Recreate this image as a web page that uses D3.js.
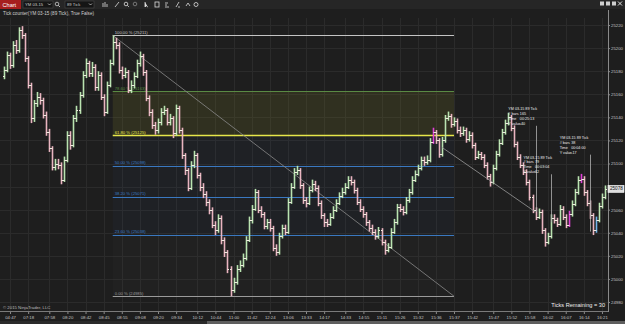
<!DOCTYPE html>
<html><head><meta charset="utf-8">
<script src="https://cdn.jsdelivr.net/npm/d3@7"></script>
<style>html,body{margin:0;padding:0;background:#1e1e1e;overflow:hidden}svg{display:block}</style>
</head><body><svg id="c" width="625" height="324"></svg>
<script>
// ---------- DATA ----------
const instrument = "YM 03-15";
const barType = "89 Tick";
const priceBase = 25000;
const firstOpen = 176;
const closes = [
181,194,185,203,198,216,211,191,168,139,
152,158,155,142,127,113,97,100,99,86,
103,125,116,139,146,159,177,187,178,184,
166,177,158,145,168,187,205,203,181,177,
179,164,168,176,187,193,179,157,145,133,
129,136,145,146,136,139,126,148,129,107,
94,79,99,107,90,80,74,67,60,47,
42,53,34,23,9,-10,-3,9,12,18,
34,51,61,75,60,56,46,49,44,27,
23,37,44,41,67,80,93,94,81,68,
66,77,82,79,66,55,49,48,54,60,
66,72,75,80,86,84,77,67,61,56,
49,44,41,37,42,32,25,28,41,49,
62,61,58,68,75,86,91,96,103,101,
103,119,127,120,108,120,139,141,134,137,
129,126,129,121,125,116,106,108,106,99,
89,84,96,108,118,127,135,140,131,117,
106,99,93,84,71,60,54,58,42,32,
37,53,51,48,61,54,47,56,65,75,
86,87,75,66,55,42,51,63,71,78];
const highs = [
184,197,196,206,207,218,219,213,193,170,
155,162,161,157,145,130,115,104,104,101,
106,128,128,142,150,162,180,191,189,188,
186,180,179,160,171,190,211,209,205,184,
183,181,172,179,190,197,195,181,159,147,
136,139,148,150,148,143,141,151,150,131,
109,96,102,111,109,92,83,76,69,62,
50,56,55,36,25,11,1,12,16,22,
37,54,64,78,77,63,58,52,52,46,
30,40,47,47,70,83,96,98,96,83,
71,80,86,85,81,68,57,52,57,63,
69,75,79,83,89,89,86,79,69,63,
58,51,47,43,45,44,34,31,44,52,
65,65,63,71,78,89,94,99,106,106,
107,122,131,129,122,123,142,145,143,140,
139,132,132,131,128,127,118,111,110,108,
101,91,99,111,121,130,138,144,142,133,
119,108,101,95,86,73,62,61,60,44,
40,56,56,53,64,63,56,59,68,78,
89,91,89,77,68,57,54,66,74,81];
const lows = [
173,179,182,183,195,196,208,188,165,135,
136,149,151,139,124,110,94,94,95,82,
84,101,112,114,136,143,157,174,175,175,
163,163,155,141,143,166,185,199,178,173,
174,161,161,165,174,184,176,154,141,130,
125,126,133,142,133,133,122,124,126,104,
90,76,77,96,87,76,70,63,56,44,
38,40,30,19,5,-15,-12,-5,6,10,
16,32,48,59,57,53,43,43,41,24,
20,21,35,38,39,65,78,90,78,65,
62,64,75,76,63,52,45,45,46,52,
58,64,70,73,78,81,74,64,58,53,
46,41,38,34,35,29,21,23,26,39,
47,58,55,56,66,73,84,89,94,98,
99,101,117,117,105,106,118,137,131,132,
126,123,124,118,119,113,103,104,103,96,
86,80,82,94,106,116,125,133,128,114,
103,96,90,81,68,57,51,52,39,28,
30,35,48,45,46,51,44,45,54,63,
73,83,72,63,52,38,40,49,61,69];
const timeLabels = ["04:47","07:18","07:58","08:20","08:42","08:45","08:55","09:08","09:20","09:34","10:12","10:44","11:00","11:42","12:24","13:06","13:33","14:17","14:33","14:55","15:11","15:26","15:32","15:36","15:37","15:42","15:47","15:52","15:58","16:02","16:07","16:14","16:21"];
const timeTickBars = [2,8,15,21,27,33,39,45,51,57,64,70,76,82,88,94,100,106,113,119,125,131,137,143,149,155,162,168,174,180,186,192,198];
const priceTicks = [25220,25200,25180,25160,25140,25120,25100,25080,25060,25040,25020,25000,24980];
const fibLevels = [100, 78.6, 61.8, 50, 38.2, 23.6, 0];
const fibStartBar = 36, fibHighPrice = 25211, fibLowPrice = 24985, fibEndBar = 149;
const currentPrice = 25078;
const ticksRemaining = 30;
const markedBars = [142, 187, 191];
const blueBars = [196];
const rulerStartBars = [145, 181, 194];
const rulerStartPrices = [25114, 25049, 25041];
const rulerEndBars = [176, 181, 194];
const rulerEndPrices = [25058, 25049, 25041];
const rulerBoxBars = [167, 172, 184];
const rulerBoxPrices = [25150, 25108, 25125];
const rulerBarCounts = [165, 79, 38];
const rulerTimes = ["00:25:13", "00:03:04", "00:04:00"];
const rulerYValues = ["-40", "12", "-17"];

// ---------- DRAW ----------
const W = 625, H = 324;
const FONT = "'Liberation Sans', Arial, sans-serif";
const svg = d3.select("#c").style("font-family", FONT);
svg.append("rect").attr("width", W).attr("height", H).attr("fill", "#1e1e1e");

const x = d3.scaleLinear().domain([0, closes.length - 1]).range([4, 605]);
const y = d3.scaleLinear().domain([24980, 25220]).range([302, 25]);
const px = v => Math.round(v) + 0.5;

// grid
const grid = svg.append("g");
grid.selectAll("line.h").data(priceTicks).join("line").attr("class", "h")
  .attr("x1", 0).attr("x2", 608).attr("y1", d => px(y(d))).attr("y2", d => px(y(d)))
  .attr("stroke", "#2b2b2b").attr("stroke-width", 1);
grid.selectAll("line.v").data(timeTickBars).join("line").attr("class", "v")
  .attr("x1", d => px(x(d))).attr("x2", d => px(x(d))).attr("y1", 18).attr("y2", 311)
  .attr("stroke", "#2b2b2b").attr("stroke-width", 1);

// fibonacci retracement
const fibPrice = l => fibLowPrice + (fibHighPrice - fibLowPrice) * l / 100;
const fx1 = x(fibStartBar), fx2 = x(fibEndBar);
const fibColor = l => l === 100 ? "#c4c4c4" : l === 78.6 ? "#5a8a44" : l === 61.8 ? "#e6e64a" : l === 0 ? "#9a9a9a" : "#3a78c0";
const fibG = svg.append("g");
fibG.append("rect").attr("x", fx1).attr("width", fx2 - fx1)
  .attr("y", y(fibPrice(78.6))).attr("height", y(fibPrice(61.8)) - y(fibPrice(78.6)))
  .attr("fill", "rgba(120,120,40,0.20)");
fibG.append("rect").attr("x", fx1).attr("width", fx2 - fx1)
  .attr("y", y(fibPrice(61.8))).attr("height", y(fibPrice(23.6)) - y(fibPrice(61.8)))
  .attr("fill", "rgba(50,80,130,0.08)");
fibG.append("rect").attr("x", fx1).attr("width", fx2 - fx1)
  .attr("y", y(fibPrice(23.6))).attr("height", y(fibPrice(0)) - y(fibPrice(23.6)))
  .attr("fill", "rgba(90,90,100,0.05)");
fibG.selectAll("line").data(fibLevels).join("line")
  .attr("x1", fx1).attr("x2", fx2)
  .attr("y1", d => px(y(fibPrice(d)))).attr("y2", d => px(y(fibPrice(d))))
  .attr("stroke", fibColor).attr("stroke-width", d => d === 61.8 ? 1.4 : 1);
fibG.selectAll("text").data(fibLevels).join("text")
  .attr("x", fx1 + 2).attr("y", d => y(fibPrice(d)) - 1.5)
  .attr("fill", fibColor).attr("font-size", 4.2)
  .text(d => `${d.toFixed(2)} % (${Math.round(fibPrice(d))})`);
fibG.append("line").attr("x1", fx1).attr("y1", y(fibHighPrice)).attr("x2", fx2).attr("y2", y(fibLowPrice))
  .attr("stroke", "#8a8a8a").attr("stroke-width", 0.8);

// bars (OHLC)
const bars = closes.map((c, i) => ({
  i, o: (i === 0 ? firstOpen : closes[i - 1]) + priceBase, c: c + priceBase,
  h: highs[i] + priceBase, l: lows[i] + priceBase
}));
const barColor = d => markedBars.includes(d.i) ? "#e040d8" : blueBars.includes(d.i) ? "#6fb3e8" :
  (d.c > d.o ? "#b9e3b0" : d.c < d.o ? "#e9b4c0" : "#ebe6d6");
const bg = svg.append("g");
bars.forEach(d => {
  const cx = px(x(d.i));
  const col = barColor(d);
  bg.append("line").attr("x1", cx).attr("x2", cx)
    .attr("y1", y(Math.max(d.h, d.o, d.c))).attr("y2", y(Math.min(d.l, d.o, d.c)))
    .attr("stroke", col).attr("stroke-width", 1.6);
  bg.append("line").attr("x1", cx - 1.5).attr("x2", cx).attr("y1", px(y(d.o))).attr("y2", px(y(d.o)))
    .attr("stroke", "#f1ece0").attr("stroke-width", 1);
  bg.append("line").attr("x1", cx).attr("x2", cx + 1.5).attr("y1", px(y(d.c))).attr("y2", px(y(d.c)))
    .attr("stroke", "#f1ece0").attr("stroke-width", 1);
});

// rulers
const rg = svg.append("g");
rulerBarCounts.forEach((n, k) => {
  const sx = x(rulerStartBars[k]), sy = y(rulerStartPrices[k]);
  const ex = x(rulerEndBars[k]), ey = y(rulerEndPrices[k]);
  const bx = x(rulerBoxBars[k]), by = y(rulerBoxPrices[k]);
  if (rulerStartBars[k] !== rulerEndBars[k])
    rg.append("line").attr("x1", sx).attr("y1", sy).attr("x2", ex).attr("y2", ey)
      .attr("stroke", "#9a9a9a").attr("stroke-width", 0.8);
  rg.append("line").attr("x1", px(ex)).attr("x2", px(ex)).attr("y1", by + 20).attr("y2", ey)
    .attr("stroke", "#b0b0b0").attr("stroke-width", 0.8);
  const lines = [[instrument + " " + barType, ""], ["# bars", String(n)], ["Time", rulerTimes[k]], ["Y value", rulerYValues[k]]];
  lines.forEach((ln, j) => {
    rg.append("text").attr("x", bx).attr("y", by + 4.3 + j * 4.9).attr("fill", "#eeeeee")
      .attr("font-size", 3.7).text(ln[0]);
    if (ln[1]) rg.append("text").attr("x", bx + 11.5).attr("y", by + 4.3 + j * 4.9).attr("fill", "#eeeeee")
      .attr("font-size", 3.7).text(ln[1]);
  });
});

// axes
const axB = svg.append("g").attr("transform", "translate(0,312)")
  .call(d3.axisBottom(x).tickValues(timeTickBars).tickFormat((d, i) => timeLabels[i]).tickSize(2).tickPadding(2));
axB.select(".domain").remove();
axB.selectAll(".tick line").attr("stroke", "#8a8a8a");
axB.selectAll(".tick text").attr("fill", "#c4c4c4").attr("font-size", 4.3).attr("font-family", FONT);
svg.append("line").attr("x1", 0).attr("x2", 608).attr("y1", 311.5).attr("y2", 311.5).attr("stroke", "#7a7a7a");

const cpy = y(currentPrice);
const axR = svg.append("g").attr("transform", "translate(608,0)")
  .call(d3.axisRight(y).tickValues(priceTicks).tickFormat(d3.format("d")).tickSize(2).tickPadding(1));
axR.select(".domain").remove();
axR.selectAll(".tick line").attr("stroke", "#8a8a8a");
axR.selectAll(".tick text").attr("fill", "#c4c4c4").attr("font-size", 4.3).attr("font-family", FONT)
  .attr("opacity", d => Math.abs(y(d) - cpy) < 6 ? 0 : 1);
svg.append("line").attr("x1", 608.5).attr("x2", 608.5).attr("y1", 10).attr("y2", 312).attr("stroke", "#8a8a8a");

// current price marker
svg.append("rect").attr("x", 608).attr("y", cpy - 3.5).attr("width", 16).attr("height", 7)
  .attr("fill", "#dedede").attr("stroke", "#ffffff").attr("stroke-width", 0.6);
svg.append("text").attr("x", 610).attr("y", cpy + 1.6).attr("font-size", 4.6).attr("fill", "#111").text(String(currentPrice));

// texts
svg.append("text").attr("x", 3).attr("y", 15).attr("fill", "#cfcfcf").attr("font-size", 4.6)
  .text(`Tick counter(${instrument} (${barType}), True False)`);
svg.append("text").attr("x", 3).attr("y", 309).attr("fill", "#bdbdbd").attr("font-size", 4.3)
  .text("© 2015 NinjaTrader, LLC");
svg.append("text").attr("x", 605).attr("y", 307).attr("text-anchor", "end").attr("fill", "#eeeeee")
  .attr("font-size", 5.6).text(`Ticks Remaining = ${ticksRemaining}`);

// scrollbar
svg.append("rect").attr("x", 0).attr("y", 321).attr("width", W).attr("height", 3).attr("fill", "#2a2a2a");
svg.append("rect").attr("x", 207).attr("y", 321).attr("width", 418).attr("height", 3).attr("fill", "#5e5e5e");

// toolbar
const tb = svg.append("g");
tb.append("rect").attr("x", 0).attr("y", 0).attr("width", W).attr("height", 9).attr("fill", "#262626");
tb.append("rect").attr("x", 0).attr("y", 0).attr("width", 21).attr("height", 9).attr("fill", "#a61e1e");
tb.append("text").attr("x", 2.5).attr("y", 6.8).attr("fill", "#ffffff").attr("font-size", 5.6).text("Chart");
[[23, 30, instrument], [65, 29, barType]].forEach(([bx, bw, t]) => {
  tb.append("rect").attr("x", bx).attr("y", 1).attr("width", bw).attr("height", 7).attr("fill", "#151515")
    .attr("stroke", "#4a4a4a").attr("stroke-width", 0.6);
  tb.append("text").attr("x", bx + 2).attr("y", 6.2).attr("fill", "#cccccc").attr("font-size", 4.2).text(t);
  tb.append("path").attr("d", `M${bx + bw - 5},3.5 l1.5,1.5 l1.5,-1.5`).attr("fill", "none").attr("stroke", "#ddd").attr("stroke-width", 0.7);
});
tb.append("circle").attr("cx", 57).attr("cy", 4).attr("r", 1.8).attr("fill", "none").attr("stroke", "#ddd").attr("stroke-width", 0.7);
tb.append("line").attr("x1", 58.3).attr("y1", 5.3).attr("x2", 60).attr("y2", 7).attr("stroke", "#ddd").attr("stroke-width", 0.8);
const ic = tb.append("g").attr("stroke", "#dddddd").attr("fill", "none").attr("stroke-width", 0.8);
ic.append("path").attr("d", "M103,7 v-4 M105,7 v-5 M107,7 v-3");
ic.append("path").attr("d", "M115,7 l4,-5");
ic.append("circle").attr("cx", 126).attr("cy", 4).attr("r", 1.8);
ic.append("path").attr("d", "M127.3,5.3 l1.6,1.6");
ic.append("circle").attr("cx", 135).attr("cy", 4).attr("r", 1.8).attr("stroke", "#888");
ic.append("path").attr("d", "M145,2 l0,5 l1.3,-1.3 l1.5,1.3").attr("fill", "#ddd");
ic.append("rect").attr("x", 155).attr("y", 2).attr("width", 4).attr("height", 5);
ic.append("path").attr("d", "M165,3 h3 M165,5 h2 M165,7 h4");
ic.append("path").attr("d", "M176,7 l3,-5 M178,7 h2");
ic.append("path").attr("d", "M186,6 l2,-3 l2,3");
ic.append("circle").attr("cx", 196).attr("cy", 4.5).attr("r", 2);
[600, 606, 612].forEach(bx => tb.append("rect").attr("x", bx).attr("y", 1.5).attr("width", 4).attr("height", 4).attr("fill", "#cfcfcf"));
tb.append("path").attr("d", "M618,1.5 l4,4 M622,1.5 l-4,4").attr("stroke", "#eee").attr("stroke-width", 0.9);
</script></body></html>
